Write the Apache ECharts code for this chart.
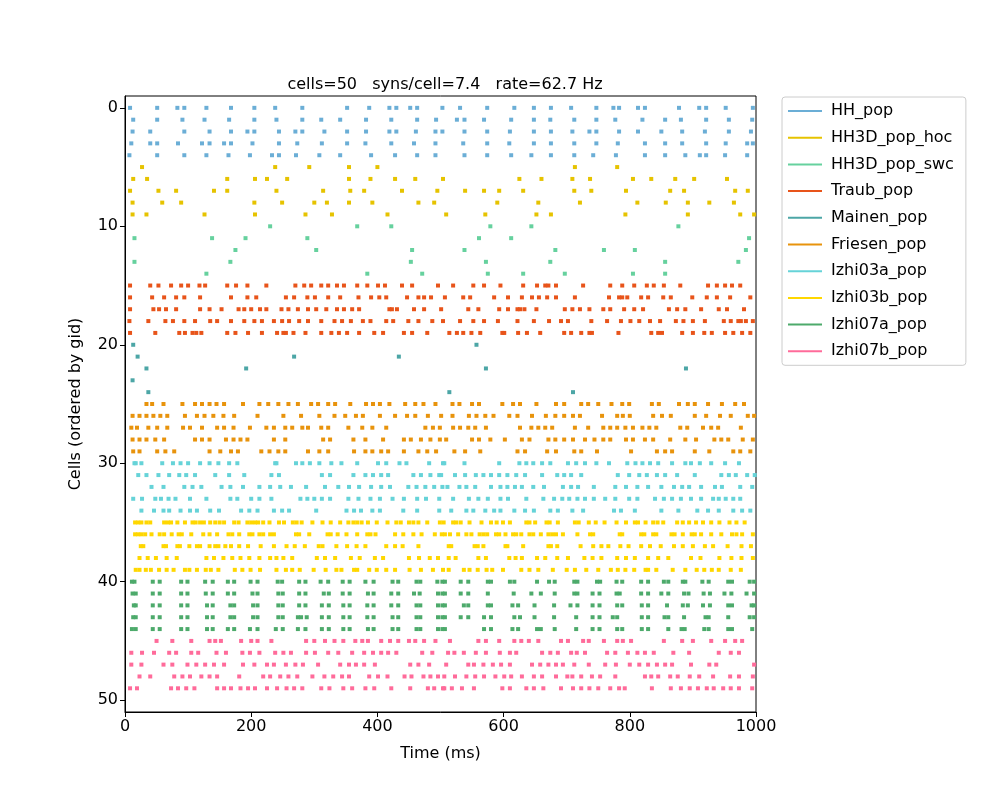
<!DOCTYPE html>
<html><head><meta charset="utf-8">
<script src="https://cdn.jsdelivr.net/npm/echarts@6/dist/echarts.min.js"></script>
<style>html,body{margin:0;padding:0;background:#fff}#c{width:1000px;height:800px}</style>
</head><body><div id="c"></div>
<script>
const populations = ["HH_pop","HH3D_pop_hoc","HH3D_pop_swc","Traub_pop","Mainen_pop","Friesen_pop","Izhi03a_pop","Izhi03b_pop","Izhi07a_pop","Izhi07b_pop"];
const colors = ["#6baed6","#e6c300","#66d19e","#e8541a","#4ca6a6","#e8930c","#66d3d8","#ffd700","#4daa6b","#ff6b9a"];
const titleText = "cells=50   syns/cell=7.4   rate=62.7 Hz";
const xTicks = [0,200,400,600,800,1000];
const yTicks = [0,10,20,30,40,50];

// spike times (ms) per cell, 5 cells per population, gid order
const HH_pop = [
 [8,51,83,94,129,168,205,238,281,352,387,419,430,452,463,503,531,574,617,648,675,707,747,774,783,813,824,878,910,921,952,995],
 [13,51,91,126,165,205,240,281,311,341,382,422,463,493,526,538,569,612,648,674,712,747,777,820,856,881,921,957,994],
 [12,40,94,134,168,194,205,244,270,281,316,352,382,419,430,461,492,503,538,574,610,648,675,709,736,747,783,813,850,883,919,957,992],
 [10,40,51,84,122,134,157,168,202,244,273,312,352,381,422,458,492,536,574,609,648,675,712,747,781,824,856,883,921,952,986,995],
 [7,51,94,129,164,198,233,244,271,308,341,390,428,463,492,538,574,612,644,675,712,742,778,824,856,888,911,921,951,986]
];
const HH3D_pop_hoc = [
 [27,238,292,355,400,713,780],
 [13,35,162,206,225,257,355,389,428,460,504,625,660,709,737,805,834,872,902,954],
 [8,53,81,141,162,240,314,357,379,439,495,539,569,593,631,712,739,794,864,886,967,987],
 [12,59,89,205,249,300,320,355,392,465,490,590,655,721,812,857,892,926,965],
 [12,34,126,206,286,328,416,509,571,652,675,793,892,975,997]
];
const HH3D_pop_swc = [
 [230,368,422,579,644,877],
 [15,138,191,289,561,612,989],
 [175,303,455,538,682,759,808,984],
 [15,167,453,572,674,856,972],
 [129,384,471,575,631,697,805,856]
];
const Traub_pop = [
 [8,40,53,73,89,100,118,127,162,176,194,224,270,284,295,311,322,336,347,368,384,401,412,439,455,496,520,552,569,595,631,653,666,671,683,726,769,788,807,827,838,854,880,924,938,951,962,975],
 [8,43,62,81,94,119,168,194,208,255,268,289,301,322,341,370,390,403,414,447,465,474,485,507,536,547,585,607,629,645,656,669,683,713,767,783,788,796,818,829,853,865,899,922,938,959,991],
 [8,45,54,65,81,119,134,153,180,189,200,214,224,248,259,274,290,303,319,336,347,360,371,419,423,431,458,474,501,544,560,593,607,622,626,633,652,697,709,721,736,758,769,791,807,821,862,875,888,913,941,954,981],
 [7,37,64,76,94,111,135,146,168,189,205,217,236,249,260,276,290,311,332,344,358,377,389,414,425,449,465,487,504,531,552,569,591,622,648,672,691,702,739,764,786,801,815,832,848,873,885,900,919,949,960,972,976,984,995],
 [8,48,86,95,107,113,121,162,175,195,217,241,251,255,267,286,311,327,339,352,371,395,409,442,455,479,514,526,536,549,563,598,601,623,637,658,696,707,723,736,740,782,834,845,851,883,900,918,930,951,964,978,991]
];
const Mainen_pop = [
 [13,557],
 [20,268,434],
 [34,192,572,889],
 [12],
 [37,514,710]
];
const Friesen_pop = [
 [34,43,61,91,111,122,134,145,157,187,213,227,243,259,274,295,306,322,333,357,382,393,404,419,444,460,473,492,519,530,550,561,598,615,626,652,683,696,723,734,750,771,788,799,835,846,878,892,903,924,946,967,981],
 [12,23,34,45,56,67,95,114,126,140,156,173,210,251,279,308,332,349,366,377,404,428,447,460,480,501,519,545,557,571,584,609,622,645,667,682,696,710,721,756,780,789,800,837,851,865,903,921,943,960,987,997],
 [10,19,37,51,67,92,103,122,146,157,172,198,224,236,254,265,281,290,311,322,354,376,392,414,476,488,499,520,531,544,555,572,626,644,655,666,677,713,734,758,769,780,793,805,820,831,842,880,891,916,929,940,976],
 [12,23,34,48,62,111,122,134,160,172,183,194,236,254,314,325,362,381,409,442,453,469,484,499,509,550,561,579,602,629,641,671,682,696,710,729,744,758,769,794,805,824,837,864,888,905,934,945,956,979,995],
 [13,23,51,64,78,134,151,168,179,216,229,243,254,290,308,322,363,381,392,406,417,442,465,479,493,522,539,563,622,634,669,683,712,723,748,802,843,856,867,903,926,964,975,991]
];
const Izhi03a_pop = [
 [15,17,26,59,76,88,100,119,134,148,165,178,238,240,271,281,293,308,327,343,368,401,414,435,446,482,504,506,538,593,625,636,647,661,674,702,715,729,747,767,796,809,820,832,845,867,888,897,911,929,951,973],
 [21,34,53,70,86,97,111,143,165,189,232,244,312,325,362,381,393,406,417,457,469,484,498,501,523,539,556,568,580,593,606,620,634,661,685,696,707,723,781,799,815,827,843,856,875,903,945,957,968,986,998],
 [42,61,94,107,121,153,167,187,213,230,246,263,287,317,338,355,371,390,406,420,449,462,476,490,503,511,530,541,555,580,595,606,618,629,647,664,694,707,718,743,777,794,812,829,850,870,883,894,913,935,946,975,994],
 [13,27,48,57,69,80,103,129,167,178,200,213,232,278,289,300,312,325,354,370,389,404,424,442,463,477,498,520,545,560,575,595,607,636,663,680,693,704,717,729,743,761,777,799,812,840,854,867,881,897,913,932,941,952,964,975],
 [26,46,61,70,88,103,114,135,149,184,197,210,236,249,260,303,351,363,374,392,404,441,463,498,517,541,552,571,585,595,617,634,648,674,686,709,726,775,786,808,850,877,907,924,941,964,978,991]
];
const Izhi03b_pop = [
 [16,21,26,34,40,62,68,73,83,95,107,112,119,125,135,143,150,157,173,180,194,200,206,211,219,229,244,252,266,272,280,297,313,326,341,354,362,368,375,385,399,416,430,437,450,457,465,479,499,505,520,525,532,546,565,580,589,599,610,636,641,650,668,673,686,713,719,735,746,760,779,794,808,813,825,837,844,853,875,884,894,905,916,929,942,958,969,982],
 [16,21,26,32,42,55,62,74,85,90,105,124,134,146,164,170,181,197,202,213,219,230,236,271,276,292,321,326,337,351,368,384,389,397,428,441,457,470,491,502,507,515,528,541,549,562,568,574,588,593,603,615,620,628,641,647,659,671,677,683,694,717,737,742,784,788,818,823,837,842,866,871,884,898,903,913,929,945,962,969,978,995],
 [25,29,61,65,83,87,102,114,119,134,143,148,159,168,181,195,215,236,256,269,285,307,313,335,352,367,381,414,428,440,465,513,517,554,559,568,603,606,631,671,675,685,722,742,755,766,785,798,818,832,849,870,884,900,919,932,955,977,992],
 [23,36,49,66,82,129,141,156,170,183,197,213,230,240,251,265,304,317,333,358,372,396,409,450,466,483,496,513,524,560,572,609,619,629,653,666,685,702,728,741,755,780,794,808,829,845,861,897,912,942,961,977,995],
 [17,23,33,41,54,66,77,95,102,114,128,136,148,174,186,199,214,240,255,265,277,299,318,335,343,363,368,387,399,414,428,451,469,488,504,513,537,546,559,573,582,599,628,641,655,678,700,713,731,750,770,781,793,807,825,829,842,868,888,906,918,930,941,960,976]
];
const Izhi07a_pop = [
 [11,15,44,55,89,99,127,139,163,173,199,210,242,249,276,286,310,322,345,356,381,394,424,433,462,468,495,503,507,532,544,575,580,610,617,653,672,681,712,717,748,753,779,788,818,829,854,861,884,888,915,925,956,962,990,997],
 [12,17,44,55,89,99,128,139,163,173,202,210,243,250,276,286,315,323,345,356,385,394,422,433,458,467,496,503,507,532,544,575,616,644,659,681,712,717,741,752,779,784,818,829,850,861,886,893,917,927,950,961,985,997],
 [14,17,44,55,89,99,130,139,167,173,203,210,243,250,276,286,312,323,346,356,384,394,422,433,462,468,496,503,507,537,544,575,580,614,623,649,680,706,717,741,752,780,788,819,829,859,884,892,916,927,956,962,993,997],
 [13,17,44,55,89,99,130,139,167,173,203,210,243,250,274,279,288,312,323,346,356,384,394,424,433,462,468,496,503,507,532,544,569,580,617,626,649,680,715,741,752,773,780,819,829,855,861,886,920,925,956,990,997],
 [11,17,44,55,89,99,130,139,163,173,198,210,239,250,274,286,312,323,346,356,385,394,424,433,462,468,496,503,507,569,580,614,623,653,659,681,715,741,752,780,788,819,829,861,882,887,918,925,956,962,994]
];
const Izhi07b_pop = [
 [50,75,105,134,143,152,184,200,210,232,287,300,317,332,346,365,376,385,406,420,433,450,460,474,492,515,560,572,593,617,628,640,655,691,702,726,735,759,780,789,802,854,883,900,929,951,967,978],
 [10,27,46,70,81,105,116,145,160,186,198,213,238,251,263,287,301,322,338,360,379,393,406,417,430,471,487,512,522,537,556,572,594,610,620,661,674,686,707,716,729,764,777,797,812,824,838,869,894,941,960,973],
 [10,26,61,75,99,113,127,141,157,187,205,225,236,255,270,282,306,341,355,366,379,396,452,465,482,509,544,553,568,583,596,610,645,658,671,683,694,712,735,761,778,800,815,829,843,856,867,897,926,937,997],
 [23,40,78,91,103,121,134,146,181,219,230,246,259,273,297,316,330,344,355,387,401,416,443,454,473,484,496,506,523,541,555,569,587,601,612,629,648,661,683,701,709,723,740,753,777,824,834,845,864,876,895,910,932,959,973,995],
 [8,19,73,84,97,110,146,157,168,183,195,206,225,241,256,268,281,311,324,346,360,381,395,422,452,480,490,504,506,518,534,553,598,610,636,648,663,691,710,723,736,750,769,783,792,835,865,881,895,908,922,933,948,960,973,994]
];
const spikeRows = [HH_pop,HH3D_pop_hoc,HH3D_pop_swc,Traub_pop,Mainen_pop,Friesen_pop,Izhi03a_pop,Izhi03b_pop,Izhi07a_pop,Izhi07b_pop];

const font = "DejaVu Sans";
const chart = echarts.init(document.getElementById('c'));
const series = populations.map((name, p) => {
  const data = [];
  spikeRows[p].forEach((times, c) => times.forEach(t => data.push([t, p*5 + c])));
  return {name, type:'scatter', data, symbol:'rect', symbolSize:[4,4],
    itemStyle:{color:colors[p], opacity:1}, silent:true, animation:false};
});
chart.setOption({
  animation:false,
  title:{text:titleText, left:440, top:72, textAlign:'center',
    textStyle:{fontFamily:font, fontSize:16, fontWeight:'normal', color:'#000'}},
  grid:{left:125, right:244, top:96, bottom:88, show:true, borderColor:'#000', borderWidth:1},
  legend:{orient:'vertical', left:782, top:97, width:186, itemGap:10.7, itemWidth:34, itemHeight:2,
    icon:'rect', padding:[6,12,6,6], borderColor:'#ccc', borderWidth:1, borderRadius:3,
    textStyle:{fontFamily:font, fontSize:16, color:'#000', padding:[0,0,0,4]},
    data:populations.map(n=>({name:n, icon:'rect'}))},
  xAxis:{type:'value', min:0, max:1000, interval:200,
    name:'Time (ms)', nameLocation:'middle', nameGap:34,
    nameTextStyle:{fontFamily:font, fontSize:16, color:'#000'},
    axisLine:{onZero:false, lineStyle:{color:'#000'}}, splitLine:{show:false},
    axisTick:{inside:false, length:5, lineStyle:{color:'#000'}},
    axisLabel:{fontFamily:font, fontSize:16, color:'#000', margin:7, formatter:v=>String(v)}},
  yAxis:{type:'value', min:-1, max:51, inverse:true,
    name:'Cells (ordered by gid)', nameLocation:'middle', nameGap:41,
    nameTextStyle:{fontFamily:font, fontSize:16, color:'#000'},
    axisLine:{onZero:false, lineStyle:{color:'#000'}}, splitLine:{show:false},
    axisTick:{inside:false, length:5, lineStyle:{color:'#000'}, customValues:yTicks},
    axisLabel:{fontFamily:font, fontSize:16, color:'#000', margin:7, customValues:yTicks}},
  series
});
</script></body></html>
